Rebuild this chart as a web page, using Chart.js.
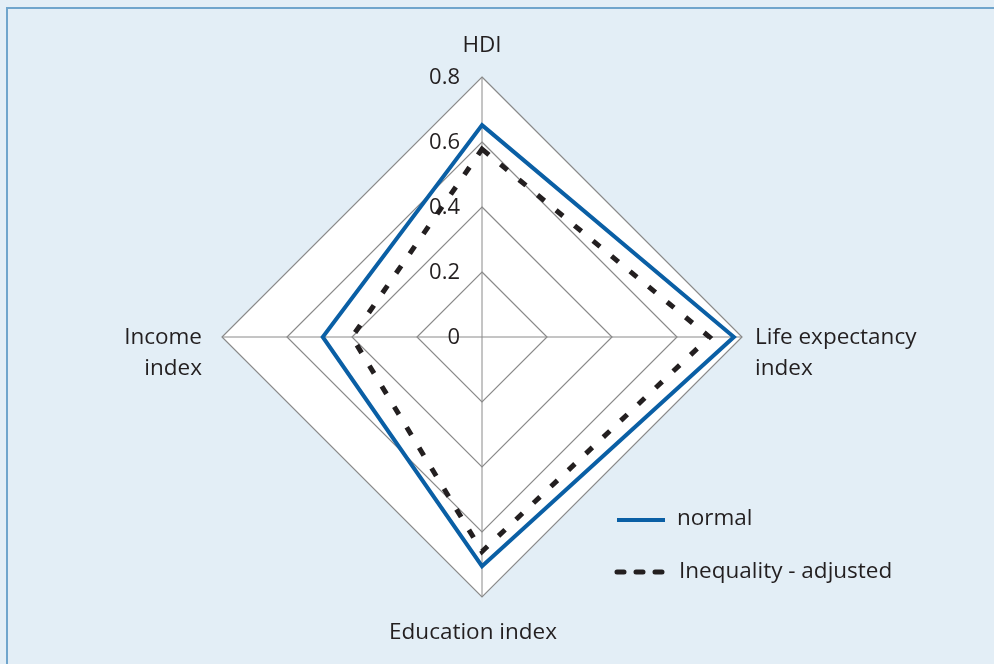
<!DOCTYPE html>
<html><head><meta charset="utf-8">
<script src="https://cdn.jsdelivr.net/npm/chart.js@4.4.1/dist/chart.umd.min.js"></script>
<style>
html,body{margin:0;padding:0;background:#e3eef6;}
#wrap{position:relative;width:994px;height:664px;overflow:hidden;}
#frame{position:absolute;left:6px;top:7px;width:1000px;height:700px;border-top:2px solid #70a5cc;border-left:2px solid #70a5cc;}
canvas{position:absolute;left:0;top:0;}
</style></head><body>
<div id="wrap"><div id="frame"></div><canvas id="c" width="994" height="664"></canvas></div>
<script>
const categories = ['HDI', ['Life expectancy', 'index'], 'Education index', ['Income', 'index']];
const normalValues = [0.652, 0.775, 0.705, 0.49];
const adjustedValues = [0.578, 0.70, 0.66, 0.40];
const tickValues = [0, 0.2, 0.4, 0.6, 0.8];
const tickLabels = ['0', '0.2', '0.4', '0.6', '0.8'];
const seriesNames = ['normal', 'Inequality - adjusted'];

const FONT = '22.5px "Open Sans"';
const TICKFONT = '22px "Open Sans"';
const TXT = '#231f20';
const BLUE = '#0a5fa5';

const deco = {
  id: 'deco',
  beforeDraw(chart) {
    const s = chart.scales.r, ctx = chart.ctx;
    ctx.save();
    ctx.beginPath();
    for (let i = 0; i < categories.length; i++) {
      const p = s.getPointPosition(i, s.drawingArea);
      i ? ctx.lineTo(p.x, p.y) : ctx.moveTo(p.x, p.y);
    }
    ctx.closePath();
    ctx.fillStyle = '#ffffff';
    ctx.fill();
    ctx.restore();
  },
  beforeDatasetsDraw(chart) {
    const s = chart.scales.r, ctx = chart.ctx;
    ctx.save();
    ctx.font = TICKFONT; ctx.fillStyle = TXT;
    ctx.textAlign = 'right'; ctx.textBaseline = 'middle';
    tickValues.forEach((v, i) => {
      const y = s.yCenter - s.getDistanceFromCenterForValue(v);
      ctx.fillText(tickLabels[i], s.xCenter - 22, y + 1);
    });
    ctx.restore();
  },
  afterDraw(chart) {
    const s = chart.scales.r, ctx = chart.ctx;
    ctx.save();
    ctx.font = FONT; ctx.fillStyle = TXT; ctx.textBaseline = 'middle';
    const cx = s.xCenter, cy = s.yCenter, R = s.drawingArea;
    // HDI
    ctx.textAlign = 'center';
    ctx.fillText(categories[0], cx, cy - R - 31);
    // Life expectancy
    ctx.textAlign = 'left';
    categories[1].forEach((t, k) => ctx.fillText(t, cx + R + 13, cy + 1 + k * 31));
    // Education
    ctx.textAlign = 'center';
    ctx.fillText(categories[2], cx - 9, cy + R + 36);
    // Income
    ctx.textAlign = 'right';
    categories[3].forEach((t, k) => ctx.fillText(t, cx - R - 20, cy + 1 + k * 31));
    // Legend
    const ds = chart.data.datasets;
    ctx.textAlign = 'left';
    ctx.lineWidth = 4; ctx.strokeStyle = ds[0].borderColor;
    ctx.beginPath(); ctx.moveTo(617, 520); ctx.lineTo(665, 520); ctx.stroke();
    ctx.fillText(ds[0].label, 677, 519);
    ctx.lineWidth = 5; ctx.strokeStyle = ds[1].borderColor; ctx.lineCap = 'round';
    ctx.setLineDash([7, 12]);
    ctx.beginPath(); ctx.moveTo(617, 572); ctx.lineTo(662, 572); ctx.stroke();
    ctx.setLineDash([]);
    ctx.fillText(ds[1].label, 679, 572);
    ctx.restore();
  }
};

new Chart(document.getElementById('c'), {
  type: 'radar',
  data: {
    labels: categories,
    datasets: [
      { label: seriesNames[0], data: normalValues, borderColor: BLUE, borderWidth: 4,
        pointRadius: 0, fill: false, borderJoinStyle: 'miter', tension: 0 },
      { label: seriesNames[1], data: adjustedValues, borderColor: '#231f20', borderWidth: 5,
        borderDash: [9, 15], pointRadius: 0, fill: false, borderJoinStyle: 'miter', tension: 0 }
    ]
  },
  options: {
    responsive: false,
    animation: false,
    layout: { padding: { left: 222, right: 252, top: 77, bottom: 67 } },
    plugins: { legend: { display: false }, tooltip: { enabled: false } },
    scales: {
      r: {
        min: 0, max: 0.8,
        ticks: { display: false, stepSize: 0.2 },
        grid: { color: '#8a8a8a', lineWidth: 1.2 },
        angleLines: { display: true, color: '#8a8a8a', lineWidth: 1 },
        pointLabels: { display: false }
      }
    }
  },
  plugins: [deco]
});
</script>
</body></html>
